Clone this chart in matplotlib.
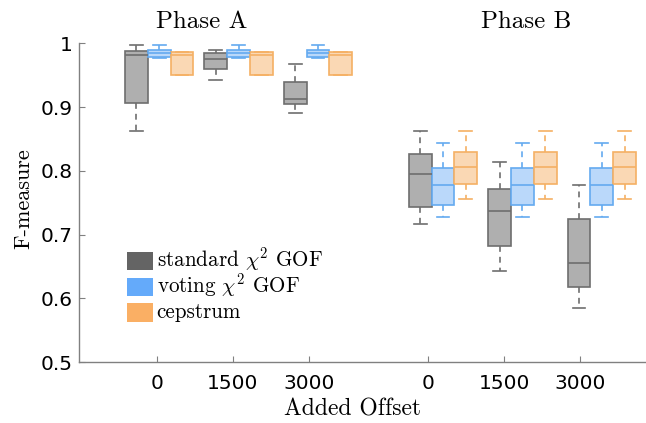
import matplotlib
matplotlib.use("Agg")
import matplotlib.pyplot as plt
from matplotlib.patches import Rectangle

plt.rcParams["mathtext.fontset"] = "cm"
plt.rcParams["axes.formatter.use_mathtext"] = True

offsets = ["0", "1500", "3000"]
methods = ["standard $\\chi^2$ GOF", "voting $\\chi^2$ GOF", "cepstrum"]

# box stats per method: one entry per offset (whislo, q1, med, q3, whishi)
phase_a = {
    "standard": [
        (0.862, 0.907, 0.981, 0.988, 0.998),
        (0.942, 0.959, 0.976, 0.985, 0.990),
        (0.891, 0.904, 0.912, 0.939, 0.967),
    ],
    "voting": [
        (0.977, 0.979, 0.985, 0.990, 0.997),
        (0.977, 0.979, 0.985, 0.990, 0.997),
        (0.977, 0.979, 0.985, 0.990, 0.997),
    ],
    "cepstrum": [
        (0.950, 0.950, 0.982, 0.986, 0.987),
        (0.950, 0.950, 0.982, 0.986, 0.987),
        (0.950, 0.950, 0.982, 0.986, 0.987),
    ],
}
phase_b = {
    "standard": [
        (0.716, 0.743, 0.795, 0.827, 0.862),
        (0.643, 0.682, 0.737, 0.772, 0.814),
        (0.584, 0.618, 0.655, 0.725, 0.777),
    ],
    "voting": [
        (0.728, 0.746, 0.777, 0.805, 0.844),
        (0.728, 0.746, 0.777, 0.805, 0.844),
        (0.728, 0.746, 0.777, 0.805, 0.844),
    ],
    "cepstrum": [
        (0.755, 0.779, 0.806, 0.829, 0.862),
        (0.755, 0.779, 0.806, 0.829, 0.862),
        (0.755, 0.779, 0.806, 0.829, 0.862),
    ],
}

solid = ["#646464", "#64aafa", "#faaf64"]
fills = ["#afafaf", "#bad8fa", "#fad8b4"]
edges = ["#6e6e6e", "#64aaf0", "#f5b064"]

fig = plt.figure(figsize=(6.46, 4.23), dpi=100)
ax = fig.add_axes([79 / 646, 61 / 423, 566 / 646, 318.7 / 423])

w = 0.3
step = 1.045
starts = {"A": 0.033, "B": 3.767}
for phase, data in (("A", phase_a), ("B", phase_b)):
    for k, key in enumerate(["standard", "voting", "cepstrum"]):
        stats = []
        pos = []
        for i, (lo, q1, med, q3, hi) in enumerate(data[key]):
            stats.append(dict(whislo=lo, q1=q1, med=med, q3=q3, whishi=hi, fliers=[]))
            pos.append(starts[phase] + step * i + (k - 1) * w)
        ax.bxp(
            stats,
            positions=pos,
            widths=w,
            capwidths=0.17,
            patch_artist=True,
            showfliers=False,
            manage_ticks=False,
            boxprops=dict(facecolor=fills[k], edgecolor=edges[k], linewidth=1.2),
            medianprops=dict(color=edges[k], linewidth=1.2),
            whiskerprops=dict(color=edges[k], linewidth=1.2, linestyle=(0, (3.5, 3))),
            capprops=dict(color=edges[k], linewidth=1.2),
        )

ticks = [0, 1, 2, 3.574, 4.574, 5.574]
ax.set_xticks(ticks)
ax.set_xticklabels(offsets + offsets)
ax.set_xlim(-1.022, 6.425)
ax.set_ylim(0.5, 1.0)
ax.set_yticks([0.5, 0.6, 0.7, 0.8, 0.9, 1.0])
ax.set_yticklabels(["0.5", "0.6", "0.7", "0.8", "0.9", "1"])

for s in ["top", "right"]:
    ax.spines[s].set_visible(False)
for s in ["left", "bottom"]:
    ax.spines[s].set_color("#808080")
    ax.spines[s].set_linewidth(1.0)
ax.tick_params(direction="in", length=4, color="#808080", labelsize=14.5)
ax.tick_params(axis="x", pad=8.5)
ax.tick_params(axis="y", pad=4.5)

ax.set_xlabel("Added Offset", family="cmr10", fontsize=17)
ax.xaxis.set_label_coords(0.483, -0.115)
ax.set_ylabel("F-measure", family="cmr10", fontsize=16)
ax.yaxis.set_label_coords(-0.081, 0.513)

fig.text(201.7 / 646, 1 - 21.7 / 423, "Phase A", family="cmr10", fontsize=18,
         ha="center", va="center")
fig.text(525.8 / 646, 1 - 21.7 / 423, "Phase B", family="cmr10", fontsize=18,
         ha="center", va="center")

# legend drawn by hand so the rows keep an even spacing
px_x = 1 / 566
px_y = 1 / 318.7
for i, (label, c) in enumerate(zip(methods, solid)):
    yc = 362 - (261 + 25.7 * i)
    ax.add_patch(Rectangle(((126.7 - 79) * px_x, (yc - 9.2) * px_y), 26.6 * px_x,
                           18.3 * px_y, transform=ax.transAxes, facecolor=c,
                           edgecolor="none"))
    ax.text((156.7 - 79) * px_x, (yc - 5.7) * px_y, label, transform=ax.transAxes,
            family="cmr10", fontsize=15.2, ha="left", va="baseline")

fig.savefig("out.png", dpi=100)
